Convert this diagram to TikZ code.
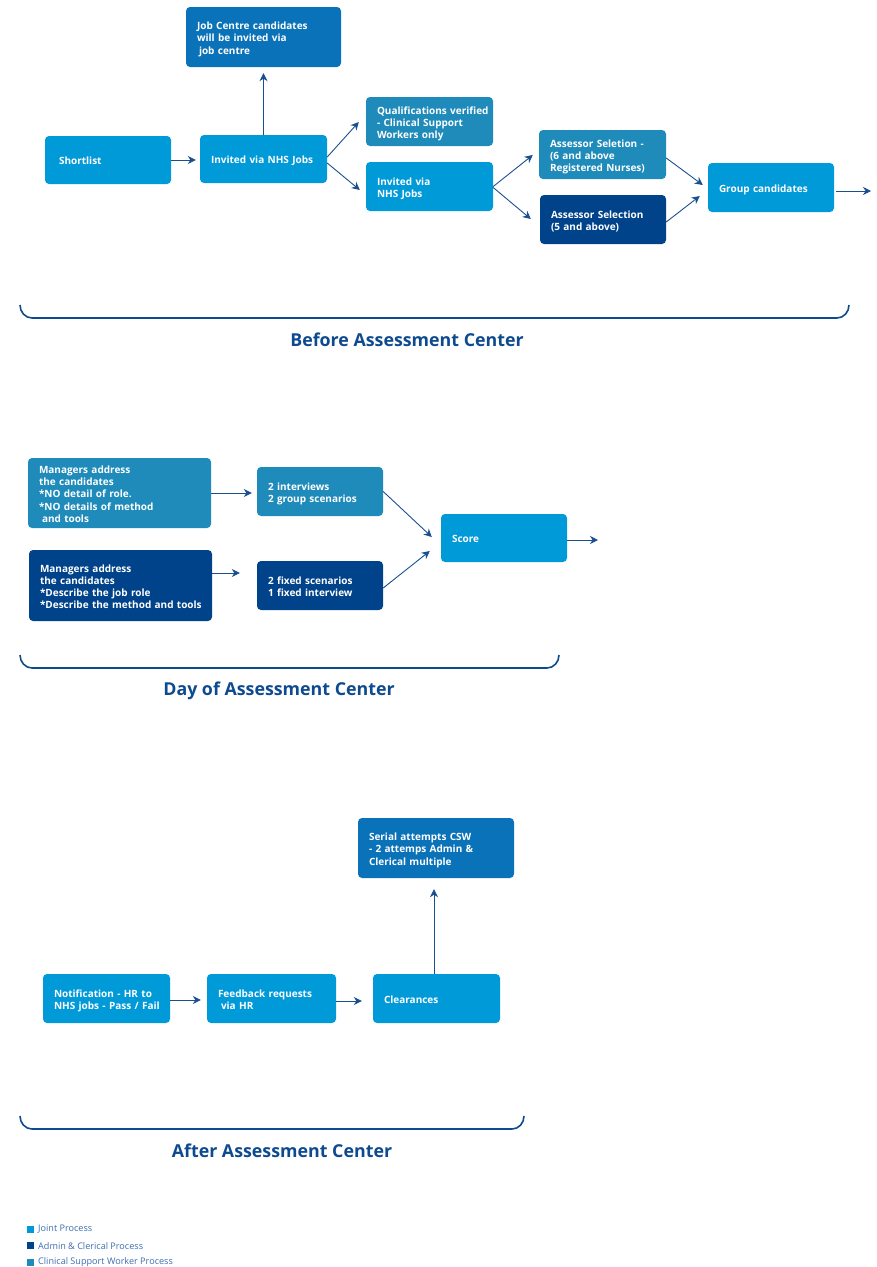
\documentclass[tikz,border=0pt]{standalone}
\usepackage{fontspec}
\setmainfont{Open Sans}
\usetikzlibrary{arrows.meta,calc}
\definecolor{joint}{HTML}{009AD9}
\definecolor{admin}{HTML}{00438A}
\definecolor{csw}{HTML}{1E8BBA}
\definecolor{jc}{HTML}{0A72B8}
\definecolor{arr}{HTML}{1A4F8F}
\definecolor{head}{HTML}{0D4A8F}
\definecolor{legtxt}{HTML}{3B6DB0}
\tikzset{
  box/.style={rounded corners=4pt, text=white, inner xsep=11pt, inner ysep=0pt,
    font=\fontsize{10}{12.3}\selectfont\bfseries},
  conn/.style={draw=arr, line width=0.9pt, -{Stealth[length=8pt,width=8pt]}},
  brace/.style={draw=head, line width=1.6pt},
  heading/.style={text=head, font=\fontsize{17.8}{20}\selectfont\bfseries},
  legsq/.style={minimum size=7pt, inner sep=0pt},
  legtext/.style={text=legtxt, anchor=west, inner sep=0pt, font=\fontsize{9.1}{11}\selectfont}
}
\newcommand{\bx}[7]{% name, x1, y1, x2, y2, color, text
  \node[box, fill=#6, minimum height={#5-#3}, text width={#4-#2-22}, anchor=center]
    (#1) at ({(#2+#4)/2},{(#3+#5)/2}) {\raisebox{-2.5pt}[\height][\depth]{\begin{tabular}{@{}l@{}}#7\end{tabular}}};}
\begin{document}
\begin{tikzpicture}[x=1pt,y=-1pt]
\useasboundingbox (0,0) rectangle (877,1267);
% ---------------- Before
\bx{jobc}{186}{7}{341}{67}{jc}{Job Centre candidates\\will be invited via\\\hspace{2pt}job centre}
\bx{short}{45}{136}{171}{184}{joint}{\hspace{3pt}Shortlist}
\bx{inv}{200}{135}{327}{183}{joint}{Invited via NHS Jobs}
\bx{qual}{366}{97}{493}{146}{csw}{Qualifications verified\\- Clinical Support\\Workers only}
\bx{inv2}{366}{162}{493}{211}{joint}{Invited via\\NHS Jobs}
\bx{ass1}{539}{130}{666}{179}{csw}{Assessor Seletion -\\(6 and above\\Registered Nurses)}
\bx{ass2}{540}{195}{666}{244}{admin}{Assessor Selection\\(5 and above)}
\bx{group}{708}{163}{834}{212}{joint}{Group candidates}
\coordinate (gout) at (871,191);
\draw[conn] (short.east) -- ($(inv.west)+(-4,1)$);
\draw[conn] (inv.north) -- ($(jobc.south)+(0,6)$);
\draw[conn] ($(inv.east)+(0,-2)$) -- ($(qual.west)+(-7,0.5)$);
\draw[conn] ($(inv.east)+(0,4)$) -- ($(inv2.west)+(-6,3.5)$);
\draw[conn] (inv2.east) -- ($(ass1.west)+(-6,0.5)$);
\draw[conn] ($(inv2.east)+(0,1)$) -- ($(ass2.west)+(-9,-0.5)$);
\draw[conn] ($(ass1.east)+(0,3.5)$) -- ($(group.west)+(-5,-2.5)$);
\draw[conn] ($(ass2.east)+(0,2.5)$) -- ($(group.west)+(-8,8.5)$);
\draw[conn] ($(group.east)+(2,3.5)$) -- (gout);
\draw[brace] (20,305) to[out=-90,in=180] (32,318) -- (837,318) to[out=0,in=-90] (849,305);
\node[heading] (h1) at (407,340) {Before Assessment Center};
% ---------------- Day of
\bx{man1}{28}{458}{211}{528}{csw}{Managers address\\the candidates\\{}*NO detail of role.\\{}*NO details of method\\\hspace{3pt}and tools}
\bx{man2}{29}{550}{212}{621}{admin}{Managers address\\the candidates\\{}*Describe the job role\\{}*Describe the method and tools}
\bx{int}{257}{467}{383}{516}{csw}{2 interviews\\2 group scenarios}
\bx{fix}{257}{561}{383}{610}{admin}{2 fixed scenarios\\1 fixed interview}
\bx{score}{441}{514}{567}{562}{joint}{Score}
\coordinate (sout) at (598,540);
\draw[conn] (man1.east) -- ($(int.west)+(-5,1.5)$);
\draw[conn] ($(man2.east)+(0,-12.5)$) -- ($(fix.west)+(-17,-12.5)$);
\draw[conn] (int.east) -- ($(score.west)+(-9,-1)$);
\draw[conn] ($(fix.east)+(0,2.5)$) -- ($(score.west)+(-11,13)$);
\draw[conn] ($(score.east)+(0,2)$) -- (sout);
\draw[brace] (20,655) to[out=-90,in=180] (32,668) -- (547,668) to[out=0,in=-90] (559,655);
\node[heading] (h2) at (279,691) {Day of Assessment Center};
% ---------------- After
\bx{serial}{358}{818}{514}{878}{jc}{Serial attempts CSW\\- 2 attemps Admin \&\\Clerical multiple}
\bx{notif}{43}{974}{170}{1023}{joint}{Notification - HR to\\NHS jobs - Pass / Fail}
\bx{feed}{207}{974}{336}{1023}{joint}{Feedback requests\\\hspace{3pt}via HR}
\bx{clear}{373}{974}{500}{1023}{joint}{Clearances}
\draw[conn] ($(notif.east)+(0,1.5)$) -- ($(feed.west)+(-6,1.5)$);
\draw[conn] ($(feed.east)+(0,2.5)$) -- ($(clear.west)+(-11,2.5)$);
\draw[conn] ($(clear.north)+(-2.5,0)$) -- ($(serial.south)+(-2,11)$);
\draw[brace] (20,1116) to[out=-90,in=180] (32,1129) -- (512,1129) to[out=0,in=-90] (524,1116);
\node[heading] (h3) at (282,1151) {After Assessment Center};
% ---------------- Legend
\node[legsq, fill=joint] (l1) at (30,1229) {};
\node[legtext] (t1) at (38,1229.5) {Joint Process};
\node[legsq, fill=admin] (l2) at (30,1245.5) {};
\node[legtext] (t2) at (38,1246) {Admin \& Clerical Process};
\node[legsq, fill=csw] (l3) at (30,1262) {};
\node[legtext] (t3) at (38,1262.5) {Clinical Support Worker Process};
\end{tikzpicture}
\end{document}
